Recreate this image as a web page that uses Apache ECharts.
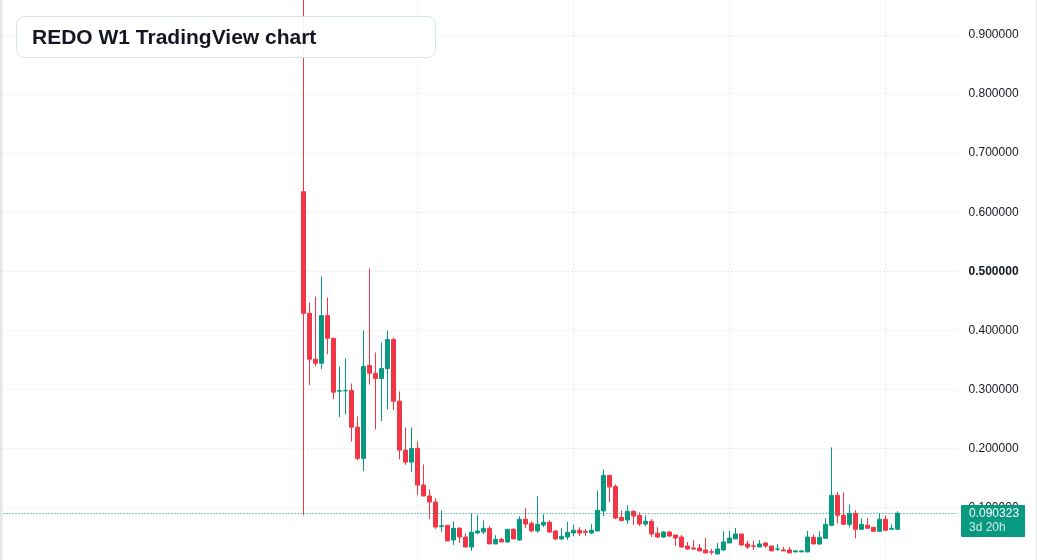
<!DOCTYPE html>
<html><head><meta charset="utf-8">
<script src="https://cdn.jsdelivr.net/npm/echarts@6/dist/echarts.min.js"></script>
<style>html,body{margin:0;padding:0;background:#fff;overflow:hidden}#c{width:1037px;height:560px}</style>
</head><body><div id="c"></div>
<script>
const chartTitle = 'REDO W1 TradingView chart';
const opens = [0.6346,0.4288,0.3511,0.3443,0.4249,0.3866,0.2970,0.2975,0.2981,0.2361,
0.1832,0.3404,0.3274,0.3184,0.3353,0.3844,0.2801,0.1972,0.1769,0.2001,
0.1380,0.1195,0.1093,0.0680,0.0699,0.0451,0.0648,0.0501,0.0332,0.0569,
0.0586,0.0648,0.0383,0.0462,0.0417,0.0632,0.0451,0.0801,0.0733,0.0603,
0.0704,0.0750,0.0603,0.0468,0.0501,0.0569,0.0615,0.0598,0.0569,0.0603,
0.0941,0.1545,0.1358,0.0834,0.0789,0.0936,0.0868,0.0721,0.0767,0.0564,
0.0501,0.0586,0.0535,0.0501,0.0349,0.0315,0.0315,0.0282,0.0251,0.0214,
0.0282,0.0400,0.0468,0.0552,0.0383,0.0352,0.0332,0.0400,0.0349,0.0294,
0.0282,0.0282,0.0248,0.0248,0.0248,0.0496,0.0383,0.0479,0.0699,0.1206,
0.0868,0.0716,0.0902,0.0632,0.0699,0.0665,0.0598,0.0801,0.0632,0.0632];
const closes = [0.4288,0.3511,0.3443,0.4249,0.3866,0.2953,0.2978,0.2982,0.2361,0.1832,
0.3387,0.3274,0.3184,0.3353,0.3844,0.2801,0.1972,0.1769,0.2001,0.1380,
0.1195,0.1093,0.0670,0.0690,0.0434,0.0648,0.0501,0.0332,0.0581,0.0603,
0.0648,0.0383,0.0462,0.0417,0.0632,0.0468,0.0801,0.0721,0.0603,0.0716,
0.0750,0.0586,0.0468,0.0513,0.0581,0.0615,0.0569,0.0581,0.0615,0.0953,
0.1545,0.1347,0.0823,0.0779,0.0936,0.0856,0.0721,0.0767,0.0552,0.0501,
0.0586,0.0518,0.0484,0.0332,0.0299,0.0299,0.0265,0.0231,0.0243,0.0299,
0.0417,0.0484,0.0552,0.0366,0.0332,0.0344,0.0383,0.0349,0.0265,0.0299,
0.0265,0.0231,0.0265,0.0265,0.0501,0.0383,0.0496,0.0716,0.1206,0.0868,
0.0716,0.0902,0.0632,0.0716,0.0648,0.0598,0.0801,0.0615,0.0648,0.090323];
const lows = [0.0868,0.3071,0.3392,0.3342,0.3595,0.2834,0.2530,0.2576,0.2119,0.1803,
0.1617,0.3083,0.2322,0.2462,0.2660,0.2648,0.1815,0.1725,0.1600,0.1211,
0.1190,0.0809,0.0637,0.0586,0.0429,0.0366,0.0400,0.0330,0.0265,0.0552,
0.0552,0.0383,0.0383,0.0417,0.0400,0.0468,0.0434,0.0648,0.0586,0.0572,
0.0670,0.0569,0.0451,0.0451,0.0451,0.0518,0.0518,0.0518,0.0552,0.0598,
0.0856,0.1093,0.0801,0.0767,0.0721,0.0704,0.0687,0.0687,0.0501,0.0484,
0.0484,0.0501,0.0349,0.0315,0.0282,0.0282,0.0265,0.0231,0.0197,0.0214,
0.0265,0.0400,0.0468,0.0349,0.0299,0.0282,0.0332,0.0315,0.0265,0.0265,
0.0265,0.0231,0.0248,0.0248,0.0248,0.0383,0.0366,0.0479,0.0682,0.0733,
0.0716,0.0665,0.0479,0.0632,0.0648,0.0598,0.0598,0.0615,0.0632,0.0632];
const highs = [1.0,0.4469,0.4571,0.4909,0.4554,0.3870,0.3387,0.3522,0.3100,0.2542,
0.3996,0.5044,0.3624,0.3793,0.3996,0.3878,0.2965,0.2356,0.2356,0.2119,
0.1730,0.1308,0.1156,0.0953,0.0699,0.0767,0.0670,0.0564,0.0902,0.0868,
0.0784,0.0682,0.0530,0.0491,0.0632,0.0648,0.0851,0.0987,0.0767,0.1189,
0.0885,0.0784,0.0615,0.0648,0.0755,0.0704,0.0665,0.0640,0.0716,0.1291,
0.1646,0.1550,0.1392,0.0953,0.1037,0.0953,0.0919,0.0868,0.0801,0.0665,
0.0598,0.0603,0.0535,0.0535,0.0417,0.0451,0.0383,0.0484,0.0299,0.0400,
0.0598,0.0603,0.0654,0.0552,0.0434,0.0434,0.0451,0.0417,0.0349,0.0383,
0.0332,0.0332,0.0282,0.0282,0.0603,0.0547,0.0598,0.0817,0.2018,0.1257,
0.1257,0.1054,0.0953,0.0817,0.0817,0.0665,0.0902,0.0868,0.0716,0.0936];
const lastPrice = 0.090323;
const countdown = '3d 20h';
const firstWeek = '2023-08-21';
const leadBars = 50, tailBars = 10;
const boldTick = 0.5;

// weekly category labels (including empty space before and after the bars)
const categories = [];
const t0 = new Date(firstWeek + 'T00:00:00Z').getTime();
for (let k = 0; k < leadBars + opens.length + tailBars; k++) {
  categories.push(new Date(t0 + (k - leadBars) * 7 * 86400000).toISOString().slice(0, 10));
}
const candles = opens.map((o, i) => [categories[i + leadBars], o, closes[i], lows[i], highs[i]]);

const UP = '#089981', DOWN = '#F23645';
const FONT = '"Liberation Sans", Arial, sans-serif';
const chart = echarts.init(document.getElementById('c'), null, {renderer: 'canvas'});
chart.setOption({
  animation: false,
  backgroundColor: '#ffffff',
  grid: {left: 3.5, right: 79.5, top: -24.07, bottom: -6.6, containLabel: false, outerBoundsMode: 'none'},
  xAxis: {
    type: 'category', data: categories, boundaryGap: false,
    axisLine: {show: false}, axisTick: {show: false}, axisLabel: {show: false},
    splitLine: {show: true, interval: (idx) => idx >= leadBars && (idx - leadBars) % 26 === 19,
      lineStyle: {color: '#d6d9e0', type: [1, 3], width: 1}}
  },
  yAxis: {
    type: 'value', position: 'right', min: 0, max: 1.0, interval: 0.1, scale: false,
    axisLine: {show: false}, axisTick: {show: false},
    splitLine: {show: true, lineStyle: {color: '#d6d9e0', type: [1, 3], width: 1}},
    axisLabel: {
      color: '#131722', fontSize: 12, fontFamily: FONT, margin: 11,
      formatter: (v) => Math.abs(v - boldTick) < 1e-9 ? '{b|' + v.toFixed(6) + '}' : v.toFixed(6),
      rich: {b: {fontWeight: 'bold', fontSize: 12, fontFamily: FONT, color: '#131722'}}
    }
  },
  series: [{
    type: 'candlestick', data: candles, barWidth: 4,
    encode: {x: 0, y: [1, 2, 3, 4]},
    itemStyle: {color: UP, color0: DOWN, borderColor: UP, borderColor0: DOWN, borderWidth: 1},
    markLine: {
      silent: true, symbol: ['none', 'none'], animation: false,
      data: [{yAxis: lastPrice}],
      lineStyle: {color: UP, type: [1, 2], width: 1, opacity: 1},
      emphasis: {disabled: true},
      label: {
        show: true, position: 'end', distance: 3.5, offset: [0, 7.5],
        formatter: () => '{p|' + lastPrice.toFixed(6) + '}\n{t|' + countdown + '}',
        backgroundColor: UP, padding: [2, 6, 2, 8], borderRadius: 1,
        rich: {
          p: {color: '#ffffff', fontSize: 12, lineHeight: 14, fontFamily: FONT},
          t: {color: 'rgba(255,255,255,0.82)', fontSize: 12, lineHeight: 14, fontFamily: FONT}
        }
      }
    }
  }],
  graphic: [
    {type: 'rect', shape: {x: 0, y: 0, width: 2.5, height: 560}, style: {fill: '#e6e7ea'}, z: 50, silent: true},
    {type: 'rect', shape: {x: 1036, y: 0, width: 1, height: 560}, style: {fill: '#e6e7ea'}, z: 50, silent: true},
    {type: 'rect', shape: {x: 16.5, y: 16.5, width: 419, height: 41, r: 8},
      style: {fill: 'rgba(255,255,255,0.92)', stroke: '#d5e3f5', lineWidth: 1}, z: 100, silent: true},
    {type: 'text', x: 32, y: 38, z: 101, silent: true,
      style: {text: chartTitle, font: 'bold 21px ' + FONT, fill: '#131722', verticalAlign: 'middle', align: 'left'}}
  ]
});
</script></body></html>
